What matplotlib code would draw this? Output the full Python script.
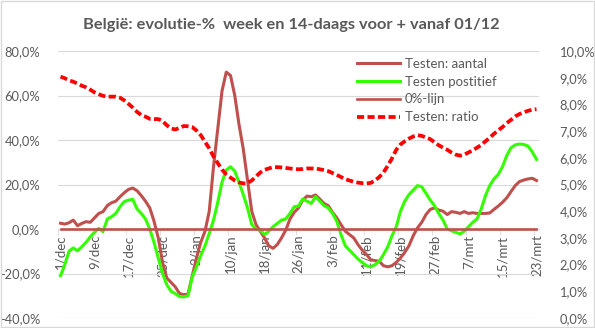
import matplotlib
matplotlib.use("Agg")
import matplotlib.pyplot as plt
from matplotlib.patches import Rectangle
from matplotlib.ticker import FuncFormatter
import numpy as np

plt.rcParams['font.family'] = ['Lato', 'DejaVu Sans']

# 1/dec .. 23/mrt, one value per day
tick_labels = ["1/dec", "9/dec", "17/dec", "25/dec", "2/jan", "10/jan", "18/jan",
               "26/jan", "3/feb", "11/feb", "19/feb", "27/feb", "7/mrt", "15/mrt", "23/mrt"]

aantal = [2.6, 2.2, 2.8, 4.0, 1.5, 2.5, 3.3, 3.0, 5.0, 7.0,
          7.8, 10.5, 11.8, 12.5, 14.5, 16.3, 17.8, 18.4, 17.2, 15.0,
          12.5, 9.5, 3.5, -4.0, -15.0, -22.0, -24.0, -26.0, -29.0, -29.5,
          -29.3, -21.0, -13.0, -6.0, -1.0, 8.0, 28.0, 45.0, 62.0, 70.5,
          69.0, 60.0, 47.0, 36.0, 22.0, 8.0, 2.0, -1.0, -4.0, -7.5,
          -8.7, -7.0, -4.0, -0.5, 4.5, 7.5, 9.5, 13.0, 14.8, 14.5,
          15.3, 13.5, 11.5, 10.5, 7.5, 5.0, 2.0, -1.0, -2.5, -4.0,
          -7.0, -9.5, -11.5, -13.8, -14.2, -14.5, -16.5, -17.0, -16.5, -15.0,
          -13.0, -10.5, -7.5, -3.0, 0.5, 3.0, 6.5, 8.8, 9.5, 8.5,
          8.0, 6.5, 7.8, 7.5, 7.0, 7.8, 7.0, 7.3, 7.0, 7.0,
          7.0, 7.2, 8.8, 10.3, 12.0, 14.0, 16.8, 19.5, 21.3, 22.0,
          22.5, 22.8, 21.8]

positief = [-21, -16, -10, -8.5, -9.8, -8, -6, -3.5, -1.5, 0.3,
            -1.2, 4.5, 5.5, 7, 10, 12.3, 13, 13.3, 9.0, 7,
            4.5, 0, -6, -13, -20, -25, -28, -29, -30.4, -30.5,
            -30, -21.5, -17, -12, -7.5, -2, 4, 12, 21, 26.5,
            28, 26, 21, 15.5, 9.5, 2.0, 0.0, -0.5, -2.5, -1,
            1, 2.5, 4, 4.5, 7, 10, 10.3, 13.5, 12.5, 11.5,
            14.5, 12.5, 10.5, 9.5, 7, 3.5, -2.5, -7.5, -9.5, -11.5,
            -13.5, -15, -16.5, -17, -16, -14.5, -11.5, -8, -3, 1,
            8, 12.5, 15.5, 17.5, 19.5, 19, 16, 13, 10.5, 7,
            4, 0, -0.8, -1.5, -2.2, -1, 1, 3, 4.5, 9,
            15, 19.5, 22.5, 24.5, 28, 33, 36.5, 37.8, 38.2, 38,
            37.3, 34.7, 31.3]

ratio = [9.04, 8.98, 8.9, 8.85, 8.78, 8.7, 8.64, 8.55, 8.45, 8.38,
         8.32, 8.29, 8.29, 8.29, 8.25, 8.15, 8.02, 7.88, 7.72, 7.6,
         7.54, 7.46, 7.45, 7.45, 7.38, 7.22, 7.1, 7.06, 7.12, 7.19,
         7.18, 7.15, 7.02, 6.85, 6.6, 6.35, 6.05, 5.8, 5.56, 5.38,
         5.26, 5.15, 5.08, 5.04, 5.05, 5.15, 5.3, 5.45, 5.55, 5.6,
         5.65, 5.65, 5.64, 5.62, 5.6, 5.58, 5.57, 5.58, 5.6, 5.6,
         5.6, 5.57, 5.54, 5.5, 5.43, 5.36, 5.28, 5.2, 5.15, 5.1,
         5.07, 5.05, 5.04, 5.06, 5.15, 5.28, 5.45, 5.7, 5.98, 6.3,
         6.5, 6.62, 6.72, 6.8, 6.85, 6.82, 6.76, 6.7, 6.58, 6.47,
         6.38, 6.3, 6.2, 6.12, 6.08, 6.12, 6.2, 6.28, 6.38, 6.48,
         6.62, 6.75, 6.9, 7.03, 7.15, 7.3, 7.42, 7.55, 7.64, 7.7,
         7.76, 7.8, 7.82]

nul_lijn = [0.0] * len(aantal)

days = np.arange(len(aantal))
grey = "#595959"
brown = "#C0504D"

fig = plt.figure(figsize=(5.95, 3.28), dpi=100)
ax = fig.add_axes([58.4 / 595, 10 / 328, (538.6 - 58.4) / 595, 267 / 328])
ax2 = ax.twinx()

l1, = ax.plot(days, aantal, color=brown, lw=2.2, label="Testen: aantal", zorder=3)
l2, = ax.plot(days, positief, color="#33FF00", lw=2.2, label="Testen postitief", zorder=3)
l3, = ax.plot(days, nul_lijn, color=brown, lw=1.9, label="0%-lijn", zorder=3)
l4, = ax2.plot(days, ratio, color="#FF0000", lw=2.7, dashes=(1.9, 0.9),
               label="Testen: ratio")

ax.set_xlim(-0.5, len(aantal) - 0.5)
ax.set_ylim(-40, 80)
ax.set_yticks(np.arange(-40, 81, 20))
ax2.set_ylim(0, 10)
ax2.set_yticks(np.arange(0, 11, 1))

pct = FuncFormatter(lambda v, p: f"{v:.1f}%".replace(".", ","))
ax.yaxis.set_major_formatter(pct)
ax2.yaxis.set_major_formatter(pct)

ax.grid(axis="y", color="#D9D9D9", lw=0.8)
ax.set_axisbelow(True)

for a in (ax, ax2):
    for s in a.spines.values():
        s.set_visible(False)
    a.tick_params(axis="y", length=0, labelsize=9.3, colors=grey)

ax.tick_params(axis="y", pad=13)
ax2.tick_params(axis="y", pad=15)

# category axis crossing at 0
ax.spines["bottom"].set_visible(True)
ax.spines["bottom"].set_position(("data", 0))
ax.spines["bottom"].set_color("#D9D9D9")
ax.spines["bottom"].set_zorder(1)
ax.set_xticks(days[::8])
ax.set_xticklabels(tick_labels, rotation=90, fontsize=9.5, color=grey)
ax.set_xticks(days[::8] - 0.5, minor=True)
ax.tick_params(axis="x", which="major", length=0, pad=4)
ax.tick_params(axis="x", which="minor", length=4, color="#D9D9D9")

ax.legend(handles=[l1, l2, l3, l4], loc="upper left", bbox_to_anchor=(0.61, 0.995),
          frameon=False, fontsize=9.5, labelcolor=grey, handlelength=3.3,
          handletextpad=0.35, labelspacing=0.45, borderaxespad=0)

fig.text(0.49, 0.925, "België: evolutie-%  week en 14-daags voor + vanaf 01/12",
         ha="center", va="center", fontsize=11.8, fontweight="bold", color=grey)

fig.patches.append(Rectangle((0.001, 0.002), 0.997, 0.995, transform=fig.transFigure,
                             fill=False, edgecolor="#D9D9D9", lw=1))

fig.savefig("out.png", dpi=100)
